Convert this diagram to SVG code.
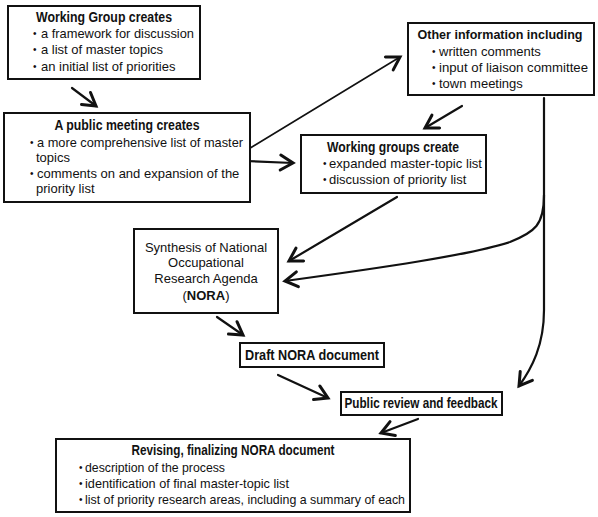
<svg xmlns="http://www.w3.org/2000/svg" width="598" height="517" viewBox="0 0 598 517">
<defs>
<style>
.box{fill:#fff;stroke:#111;stroke-width:2}
text{font-family:"Liberation Sans",Arial,sans-serif;font-size:13px;fill:#111}
.t{font-weight:bold;text-anchor:middle;font-size:14px}
.c{text-anchor:middle}
.b{font-weight:bold}
.d{font-size:10px}
.con{fill:none;stroke:#111;stroke-width:2.2;stroke-linecap:round}
</style>
<marker id="ah" markerUnits="userSpaceOnUse" markerWidth="20" markerHeight="20" refX="0" refY="0" viewBox="-12 -8 14 16" orient="auto">
<path d="M-10,-6 L0,0 L-10,6" fill="none" stroke="#111" stroke-width="2.4" stroke-linecap="round" stroke-linejoin="miter"/>
</marker>
</defs>
<rect width="598" height="517" fill="#fff"/>
<g id="connectors">
<path class="con" d="M72,88 L96,106" marker-end="url(#ah)"/>
<path class="con" d="M247,150 L400,57" marker-end="url(#ah)" style="stroke-width:1.6"/>
<path class="con" d="M245,161 L293,163" marker-end="url(#ah)"/>
<path class="con" d="M462,106 L425,128" marker-end="url(#ah)"/>
<path class="con" d="M397,197 L289,261" marker-end="url(#ah)"/>
<path class="con" d="M544,98 L544,195 C544,225 535,232 510,242 C470,255 380,268 285,281" marker-end="url(#ah)"/>
<path class="con" d="M544,195 L544,310 C544,345 532,368 519,386" marker-end="url(#ah)"/>
<path class="con" d="M217,317 L243,335" marker-end="url(#ah)"/>
<path class="con" d="M278,375 L328,398" marker-end="url(#ah)"/>
<path class="con" d="M418,419 L381,433" marker-end="url(#ah)"/>
</g>
<g id="node-working-group">
<rect class="box" x="8" y="6" width="192" height="73"/>
<text class="t" x="104" y="22" textLength="136" lengthAdjust="spacingAndGlyphs">Working Group creates</text>
<text class="d" x="33" y="37">•</text><text x="41" y="38" textLength="153" lengthAdjust="spacingAndGlyphs">a framework for discussion</text>
<text class="d" x="33" y="53">•</text><text x="41" y="54">a list of master topics</text>
<text class="d" x="33" y="70">•</text><text x="41" y="71">an initial list of priorities</text>
</g>
<g id="node-public-meeting">
<rect class="box" x="4" y="113" width="246" height="89"/>
<text class="t" x="127" y="130" textLength="145" lengthAdjust="spacingAndGlyphs">A public meeting creates</text>
<text class="d" x="30" y="146">•</text><text x="37" y="147" textLength="206" lengthAdjust="spacingAndGlyphs">a more comprehensive list of master</text>
<text x="36" y="162">topics</text>
<text class="d" x="30" y="177">•</text><text x="37" y="178">comments on and expansion of the</text>
<text x="36" y="193">priority list</text>
</g>
<g id="node-other-info">
<rect class="box" x="408" y="23" width="186" height="72"/>
<text class="t" x="500" y="39" style="font-size:13px" textLength="165" lengthAdjust="spacingAndGlyphs">Other information including</text>
<text class="d" x="432" y="55">•</text><text x="439" y="56">written comments</text>
<text class="d" x="432" y="71">•</text><text x="439" y="72" textLength="149" lengthAdjust="spacingAndGlyphs">input of liaison committee</text>
<text class="d" x="432" y="87">•</text><text x="439" y="88">town meetings</text>
</g>
<g id="node-working-groups">
<rect class="box" x="301" y="135" width="185" height="58"/>
<text class="t" x="393" y="152" textLength="132" lengthAdjust="spacingAndGlyphs">Working groups create</text>
<text class="d" x="323" y="167">•</text><text x="329" y="168" textLength="153" lengthAdjust="spacingAndGlyphs">expanded master-topic list</text>
<text class="d" x="323" y="183">•</text><text x="329" y="184">discussion of priority list</text>
</g>
<g id="node-synthesis">
<rect class="box" x="134" y="229" width="144" height="84"/>
<text class="c" x="206" y="252">Synthesis of National</text>
<text class="c" x="206" y="267">Occupational</text>
<text class="c" x="206" y="283">Research Agenda</text>
<text class="c" x="206" y="300">(<tspan class="b">NORA</tspan>)</text>
</g>
<g id="node-draft">
<rect class="box" x="240" y="343" width="144" height="24"/>
<text class="t" x="312" y="360" textLength="134" lengthAdjust="spacingAndGlyphs">Draft NORA document</text>
</g>
<g id="node-public-review">
<rect class="box" x="341" y="392" width="161" height="23"/>
<text class="t" x="421" y="408" textLength="153" lengthAdjust="spacingAndGlyphs">Public review and feedback</text>
</g>
<g id="node-revising">
<rect class="box" x="56" y="439" width="354" height="73"/>
<text class="t" x="233" y="455" textLength="203" lengthAdjust="spacingAndGlyphs">Revising, finalizing NORA document</text>
<text class="d" x="79" y="471">•</text><text x="85" y="472" textLength="140" lengthAdjust="spacingAndGlyphs">description of the process</text>
<text class="d" x="79" y="487">•</text><text x="85" y="488" textLength="204" lengthAdjust="spacingAndGlyphs">identification of final master-topic list</text>
<text class="d" x="79" y="503">•</text><text x="85" y="504" textLength="320" lengthAdjust="spacingAndGlyphs">list of priority research areas, including a summary of each</text>
</g>
</svg>
